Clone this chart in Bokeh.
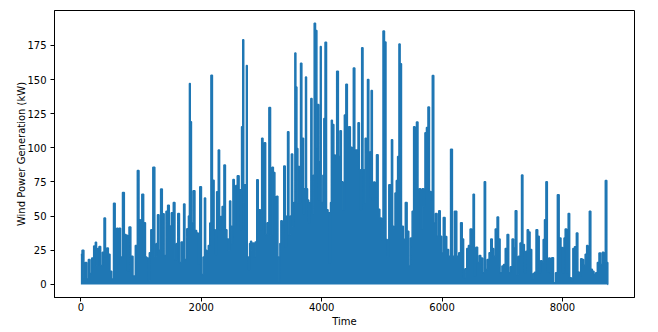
from bokeh.plotting import figure
from bokeh.models import Range1d
from bokeh.embed import file_html
from bokeh.resources import INLINE

# Hourly wind power values (hour index, kW)
hours = [0, 39, 61, 83, 111, 138, 166, 194, 232, 249, 271, 288, 315, 343, 371, 398, 420, 443, 470, 498,
         526, 559, 581, 609, 625, 642, 675, 708, 736, 764, 786, 813, 847, 885, 924, 952, 979, 1001, 1024, 1062,
         1084, 1107, 1129, 1145, 1179, 1212, 1245, 1262, 1284, 1311, 1339, 1367, 1400, 1428, 1455, 1483, 1522, 1549, 1577, 1599,
         1621, 1654, 1677, 1699, 1715, 1743, 1776, 1798, 1809, 1826, 1848, 1881, 1909, 1937, 1964, 1986, 2020, 2042, 2064, 2080,
         2103, 2130, 2152, 2169, 2202, 2224, 2241, 2269, 2296, 2313, 2330, 2363, 2390, 2413, 2440, 2462, 2479, 2501, 2518, 2534,
         2562, 2584, 2612, 2645, 2661, 2678, 2700, 2711, 2728, 2744, 2756, 2772, 2794, 2811, 2828, 2844, 2861, 2883, 2905, 2938,
         2955, 2971, 2994, 3013, 3038, 3058, 3082, 3110, 3137, 3165, 3187, 3209, 3237, 3265, 3281, 3298, 3314, 3331, 3359, 3381,
         3409, 3425, 3442, 3470, 3486, 3508, 3530, 3547, 3563, 3580, 3597, 3613, 3624, 3641, 3657, 3685, 3713, 3724, 3740, 3757,
         3774, 3796, 3812, 3829, 3851, 3868, 3884, 3912, 3929, 3940, 3962, 3973, 3984, 4001, 4012, 4028, 4045, 4067, 4095, 4117,
         4139, 4155, 4167, 4189, 4216, 4238, 4261, 4294, 4316, 4338, 4366, 4388, 4416, 4438, 4460, 4493, 4515, 4537, 4565, 4593,
         4615, 4637, 4654, 4676, 4698, 4714, 4731, 4753, 4770, 4797, 4814, 4831, 4853, 4875, 4897, 4925, 4952, 4980, 5008, 5030,
         5057, 5080, 5102, 5129, 5151, 5168, 5190, 5207, 5229, 5251, 5273, 5295, 5312, 5340, 5373, 5406, 5434, 5461, 5489, 5517,
         5539, 5561, 5589, 5611, 5633, 5655, 5683, 5705, 5727, 5755, 5777, 5804, 5827, 5849, 5876, 5904, 5932, 5959, 5981, 6004,
         6037, 6064, 6092, 6125, 6158, 6186, 6225, 6264, 6291, 6325, 6347, 6369, 6397, 6424, 6452, 6480, 6507, 6524, 6551, 6574,
         6607, 6629, 6657, 6690, 6712, 6734, 6767, 6795, 6823, 6845, 6867, 6900, 6928, 6950, 6978, 7011, 7033, 7066, 7094, 7121,
         7149, 7177, 7199, 7232, 7254, 7282, 7309, 7332, 7354, 7381, 7404, 7426, 7448, 7476, 7503, 7525, 7547, 7575, 7603, 7625,
         7647, 7669, 7691, 7713, 7738, 7760, 7785, 7808, 7835, 7868, 7902, 7929, 7962, 7990, 8018, 8034, 8057, 8084, 8106, 8134,
         8162, 8184, 8217, 8245, 8267, 8289, 8317, 8339, 8361, 8394, 8411, 8433, 8460, 8483, 8510, 8538, 8566, 8593, 8621, 8649,
         8676, 8698, 8726, 8748, 8759]

power_kw = [21.9, 25.0, 5, 16.0, 4, 18.2, 8, 19.4, 28.2, 30.9, 14, 26.2, 27.7, 13.9, 23.5, 48.6, 20, 26.7, 22, 9.7,
            4, 59.5, 12, 41.1, 15, 41.1, 20, 67.3, 36.5, 36.0, 10, 42.0, 20.7, 6.1, 28.4, 83.4, 47.4, 20, 66.1, 45.2,
            20, 19.4, 3, 23.1, 40.1, 85.8, 20.7, 30, 51.0, 25, 69.8, 51.8, 21.1, 53.5, 57.9, 42.8, 52.5, 60.0, 18.2, 30,
            52.0, 16.0, 31.1, 20, 58.8, 18.2, 40.8, 50, 147.2, 119.1, 45.0, 68.5, 39.4, 37.7, 15, 71.6, 7.3, 20, 63.3, 25,
            23.1, 28.4, 45, 153.1, 76.3, 40, 21.9, 67.9, 98.4, 40, 49.8, 57.1, 87.5, 40, 33.3, 25, 61.0, 42.5, 30, 76.9,
            42.5, 72.4, 79.5, 69.3, 40, 115.5, 179.2, 60, 72.9, 40, 160.4, 20, 10.9, 30, 31.6, 25, 30.4, 20, 31.1, 76.6,
            40, 54.7, 40, 107.0, 65.6, 103.8, 36.5, 45.2, 129.5, 36.0, 85.8, 81.9, 64.2, 64.6, 20, 2.0, 30, 46.7, 43.8, 86.8,
            27.5, 50, 111.8, 36.5, 50, 95.5, 42.5, 60, 169.4, 144.6, 99.6, 60, 86.3, 60, 161.9, 107.0, 52.0, 70, 151.9, 70,
            61.8, 45.2, 60, 136.1, 52.0, 80, 191.3, 185.9, 100, 131.8, 61.8, 90, 174.3, 60, 60.0, 80, 121.5, 177.4, 54.7, 52.5,
            15.6, 60, 120.3, 117.1, 94.8, 93.6, 156.1, 93.6, 112.5, 75.2, 54.7, 124.0, 146.6, 108.2, 115.5, 100.4, 99.7, 158.5, 98.4, 98.4,
            118.4, 84, 54.7, 173.3, 84, 60, 107, 97, 150, 97, 64, 142, 61.8, 75, 64, 95, 55, 48.6, 32.8, 185.5,
            177.5, 32.8, 20.7, 73, 55, 106, 42.5, 40.6, 67, 76, 93.6, 176, 161.6, 42.5, 33, 60, 39, 13.4, 34, 53.5,
            115.5, 98.5, 119, 69, 70, 40.8, 70, 57, 111, 115, 130, 68, 61.8, 153, 45, 52, 35.2, 54, 35.2, 23,
            49, 35, 25.5, 20.7, 99, 20.7, 53.5, 20.7, 23.1, 45.2, 33.3, 4.9, 11.4, 26.2, 28.4, 40.6, 28.4, 66.1, 6.1, 27.2,
            16.0, 21.1, 19.4, 8.5, 75.2, 10.9, 18.2, 23.1, 33.3, 26.2, 20.7, 40.6, 49.3, 33.3, 8.5, 13.4, 14.6, 26.2, 36.5, 8.5,
            13.0, 33.3, 26.7, 54.0, 7.3, 20.7, 30.4, 80.2, 29.2, 8.5, 24.3, 40.1, 38.4, 25.5, 4.1, 8.0, 8.9, 40.1, 35.2, 8.5,
            17.3, 16.0, 32.8, 47.4, 75.2, 9, 19.4, 8.5, 19.5, 1.2, 8.5, 65.6, 34, 27, 8.5, 34, 40.6, 8.5, 52, 4.9,
            2.4, 26.2, 27.5, 37.7, 9.0, 6.1, 18.7, 18.2, 14, 22, 28.4, 20.7, 53.5, 11, 9.7, 7.3, 8.5, 16, 23, 14.6,
            23.6, 17, 76, 16, 0]

x_ticks = [0, 2000, 4000, 6000, 8000]
y_ticks = [0, 25, 50, 75, 100, 125, 150, 175]
x_label = "Time"
y_label = "Wind Power Generation (kW)"

BLUE = "#1f77b4"
FONT = "DejaVu Sans"

p = figure(width=658, height=332, output_backend="svg", toolbar_location=None,
           x_range=Range1d(-438, 9197), y_range=Range1d(-9.6, 200.6),
           min_border_left=54, min_border_right=24, min_border_top=10, min_border_bottom=35,
           background_fill_color="white", border_fill_color="white")

try:
    p.varea_step(x=hours, y1=0, y2=power_kw, step_mode="center", fill_color=BLUE, fill_alpha=1.0)
except Exception:
    p.varea(x=hours, y1=0, y2=power_kw, fill_color=BLUE, fill_alpha=1.0)
p.step(hours, power_kw, mode="center", line_width=1.5, line_color=BLUE)

p.xgrid.visible = False
p.ygrid.visible = False
p.outline_line_color = "black"
p.outline_line_alpha = 1.0
p.outline_line_width = 1

p.xaxis.ticker = x_ticks
p.yaxis.ticker = y_ticks
p.xaxis.axis_label = x_label
p.yaxis.axis_label = y_label

for ax in (p.xaxis[0], p.yaxis[0]):
    ax.axis_line_color = "black"
    ax.major_tick_line_color = "black"
    ax.major_tick_out = 4
    ax.major_tick_in = 0
    ax.minor_tick_out = 0
    ax.minor_tick_in = 0
    ax.major_label_text_font = FONT
    ax.major_label_text_font_size = "10px"
    ax.major_label_text_color = "black"
    ax.axis_label_text_font = FONT
    ax.axis_label_text_font_size = "10px"
    ax.axis_label_text_font_style = "normal"
    ax.axis_label_text_color = "black"

p.xaxis.major_label_standoff = 1
p.xaxis.axis_label_standoff = 2
p.yaxis.major_label_standoff = 4
p.yaxis.axis_label_standoff = -3

open("out.html", "w").write(file_html(p, INLINE))
